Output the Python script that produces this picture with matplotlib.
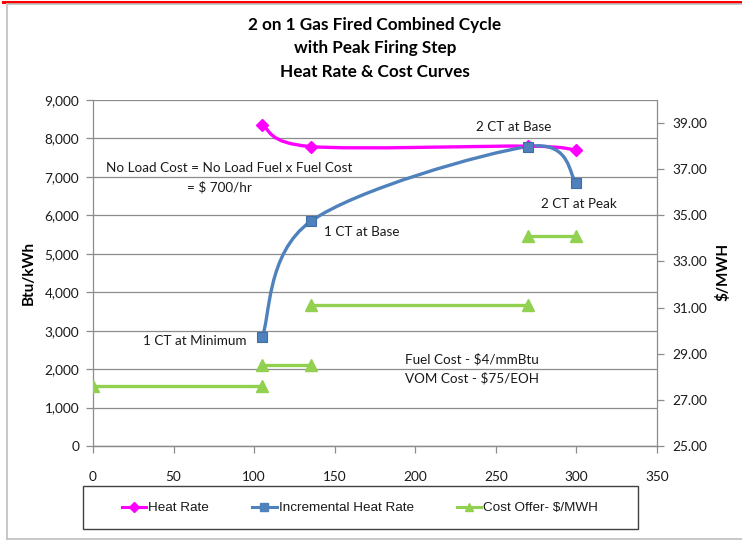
import numpy as np
import matplotlib
matplotlib.use('Agg')
import matplotlib.pyplot as plt
from matplotlib.path import Path
from matplotlib.patches import PathPatch, Rectangle
from matplotlib.lines import Line2D
from matplotlib.ticker import FuncFormatter, MultipleLocator, FixedLocator

# Data (MW output vs heat rate / cost)
mw_points = [105, 135, 270, 300]
heat_rate = [8350, 7790, 7800, 7690]
incr_heat_rate = [2840, 5840, 7790, 6850]

step_start = [0, 105, 135, 270]
step_end = [105, 135, 270, 300]
step_price = [27.6, 28.5, 31.1, 34.1]

W, H = 742, 541
FONT = 'Lato'
TXT = '#1a1a1a'
GRID = '#8c8c8c'

plt.rcParams['font.family'] = [FONT, 'DejaVu Sans']

fig = plt.figure(figsize=(W / 100, H / 100), dpi=100)


def fx(px):
    return px / W


def fy(py):
    return 1 - py / H


# plot area in pixel coordinates
L, R, T, B = 93, 657, 100, 446
ax = fig.add_axes([fx(L), fy(B), fx(R) - fx(L), fy(T) - fy(B)])
ax2 = ax.twinx()

ax.set_xlim(0, 350)
ax.set_ylim(0, 9000)
ax2.set_ylim(25, 40)

ax.xaxis.set_major_locator(MultipleLocator(50))
ax.yaxis.set_major_locator(MultipleLocator(1000))
ax.yaxis.set_major_formatter(FuncFormatter(lambda v, p: f"{v:,.0f}"))
ax2.yaxis.set_major_locator(FixedLocator(np.arange(25, 40, 2)))
ax2.yaxis.set_major_formatter(FuncFormatter(lambda v, p: f"{v:.2f}"))

ax.grid(axis='y', color=GRID, lw=0.9)
ax.set_axisbelow(True)
for a in (ax, ax2):
    for s in a.spines.values():
        s.set_color(GRID)
        s.set_linewidth(0.9)
    a.spines['top'].set_visible(False)
    a.tick_params(colors=GRID, labelcolor=TXT, labelsize=9.8, length=5, width=0.9)
ax.tick_params(axis='x', pad=13)
ax.tick_params(axis='y', pad=5)
ax2.tick_params(axis='y', pad=6)
ax2.spines['left'].set_visible(False)
ax.spines['right'].set_visible(False)


def smooth_path(a, xs, ys):
    """Excel-style smoothed line: cubic bezier through points, built in screen space."""
    pts = a.transData.transform(np.column_stack([xs, ys]))
    n = len(pts)
    verts = [pts[0]]
    codes = [Path.MOVETO]
    for i in range(n - 1):
        p0 = pts[max(i - 1, 0)]
        p1 = pts[i]
        p2 = pts[i + 1]
        p3 = pts[min(i + 2, n - 1)]
        verts += [p1 + (p2 - p0) / 6, p2 - (p3 - p1) / 6, p2]
        codes += [Path.CURVE4] * 3
    verts = a.transData.inverted().transform(np.array(verts))
    return Path(verts, codes)


MAGENTA = '#ff00ff'
BLUE = '#4f81bd'
GREEN = '#92d050'

ax.add_patch(PathPatch(smooth_path(ax, mw_points, heat_rate), fill=False,
                       ec=MAGENTA, lw=2.4, capstyle='round', zorder=3))
ax.plot(mw_points, heat_rate, ls='none', marker='D', ms=6, color=MAGENTA, zorder=4)

ax.add_patch(PathPatch(smooth_path(ax, mw_points, incr_heat_rate), fill=False,
                       ec=BLUE, lw=2.4, capstyle='round', zorder=3))
ax.plot(mw_points, incr_heat_rate, ls='none', marker='s', ms=7.5, color=BLUE,
        mec='#3e6ea8', mew=0.8, zorder=4)

for x0, x1, p in zip(step_start, step_end, step_price):
    ax2.plot([x0, x1], [p, p], color=GREEN, lw=2.4, marker='^', ms=8, zorder=3)

# axis labels
fig.text(fx(29), fy(273), 'Btu/kWh', rotation=90, ha='center', va='center',
         fontsize=11, fontweight='bold', color='black')
fig.text(fx(723), fy(272), '$/MWH', rotation=90, ha='center', va='center',
         fontsize=11, fontweight='bold', color='black')

# title
for txt, y in zip(['2 on 1 Gas Fired Combined Cycle', 'with Peak Firing Step',
                   'Heat Rate & Cost Curves'], [25, 48, 72]):
    fig.text(fx(375), fy(y), txt, ha='center', va='center', fontsize=12.3,
             fontweight='bold', color='black')

# annotations (pixel positions)
notes = [
    ('No Load Cost = No Load Fuel x Fuel Cost', 106, 168, 'left'),
    ('= $ 700/hr', 187, 187, 'left'),
    ('1 CT at Base', 324, 232, 'left'),
    ('2 CT at Base', 514, 127, 'center'),
    ('2 CT at Peak', 579, 204, 'center'),
    ('1 CT at Minimum', 195, 341, 'center'),
    ('Fuel Cost - $4/mmBtu', 405, 359, 'left'),
    ('VOM Cost - $75/EOH', 405, 378, 'left'),
]
for txt, x, y, ha in notes:
    fig.text(fx(x), fy(y), txt, ha=ha, va='center', fontsize=9.7, color=TXT)

# legend box
fig.add_artist(Rectangle((fx(83), fy(529)), fx(638) - fx(83), fy(486) - fy(529),
                         transform=fig.transFigure, fill=False, ec='#404040', lw=1.0))
handles = [
    Line2D([], [], color=MAGENTA, lw=2.2, marker='D', ms=5),
    Line2D([], [], color=BLUE, lw=2.2, marker='s', ms=6),
    Line2D([], [], color=GREEN, lw=2.2, marker='^', ms=6),
]
fig.legend(handles, ['Heat Rate', 'Incremental Heat Rate', 'Cost Offer- $/MWH'],
           loc='center', bbox_to_anchor=(fx(360), fy(508)), ncol=3, frameon=False,
           prop={'family': 'Liberation Sans', 'size': 9.7}, handlelength=1.8,
           handletextpad=0.15, columnspacing=3.2, labelcolor=TXT)

# outer chart decorations
fig.add_artist(Line2D([fx(3), 1], [fy(1.5), fy(1.5)], color='#ff0000', lw=2.2,
                      transform=fig.transFigure))
fig.add_artist(Line2D([fx(7), 1], [fy(4), fy(4)], color='#bfbfbf', lw=1.2,
                      transform=fig.transFigure))
fig.add_artist(Line2D([fx(7), fx(7)], [fy(4), fy(539)], color='#bfbfbf', lw=1.2,
                      transform=fig.transFigure))
fig.add_artist(Line2D([fx(7), 1], [fy(539), fy(539)], color='#bfbfbf', lw=1.2,
                      transform=fig.transFigure))

fig.savefig('out.png', dpi=100)
